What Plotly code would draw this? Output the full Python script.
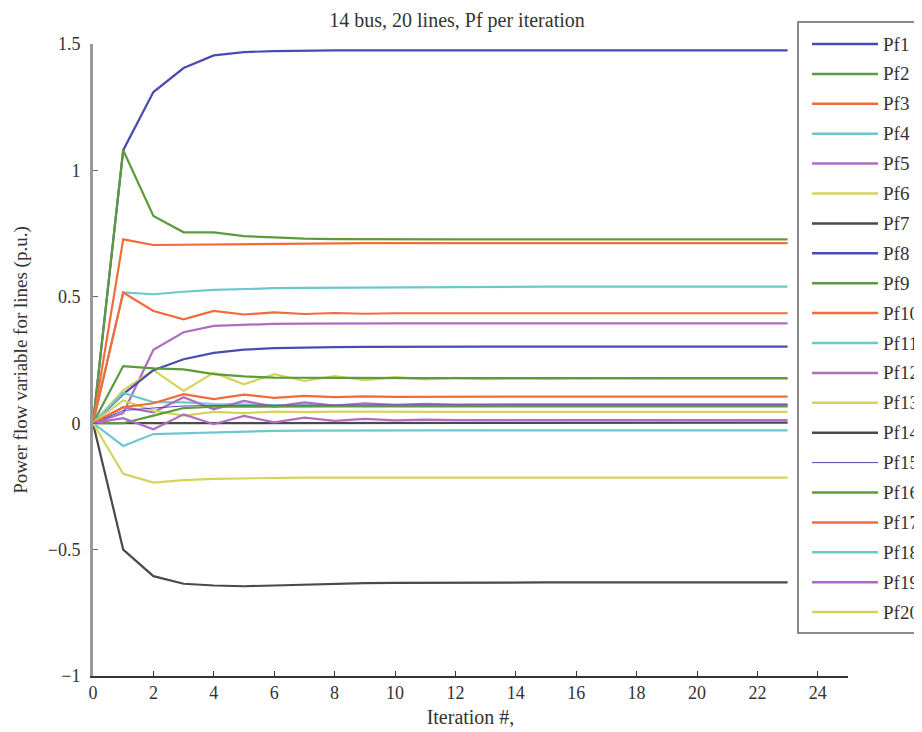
import plotly.graph_objects as go

iterations = list(range(24))

pf1 = [0, 1.08, 1.31, 1.405, 1.455, 1.468, 1.472, 1.474, 1.475, 1.475, 1.475, 1.475, 1.475, 1.475, 1.475, 1.475, 1.475, 1.475, 1.475, 1.475, 1.475, 1.475, 1.475, 1.475]
pf2 = [0, 1.08, 0.82, 0.755, 0.755, 0.74, 0.735, 0.73, 0.728, 0.727, 0.727, 0.727, 0.727, 0.727, 0.727, 0.727, 0.727, 0.727, 0.727, 0.727, 0.727, 0.727, 0.727, 0.727]
pf3 = [0, 0.727, 0.705, 0.706, 0.708, 0.71, 0.711, 0.712, 0.712, 0.712, 0.712, 0.712, 0.712, 0.712, 0.712, 0.712, 0.712, 0.712, 0.712, 0.712, 0.712, 0.712, 0.712, 0.712]
pf4 = [0, 0.517, 0.51, 0.52, 0.527, 0.532, 0.534, 0.535, 0.536, 0.537, 0.538, 0.538, 0.539, 0.539, 0.54, 0.54, 0.54, 0.54, 0.54, 0.54, 0.54, 0.54, 0.54, 0.54]
pf5 = [0, 0.04, 0.29, 0.36, 0.385, 0.39, 0.393, 0.394, 0.395, 0.395, 0.395, 0.395, 0.395, 0.395, 0.395, 0.395, 0.395, 0.395, 0.395, 0.395, 0.395, 0.395, 0.395, 0.395]
pf6 = [0, 0.13, 0.21, 0.128, 0.2, 0.154, 0.194, 0.167, 0.186, 0.17, 0.182, 0.173, 0.179, 0.174, 0.178, 0.175, 0.177, 0.176, 0.176, 0.176, 0.176, 0.176, 0.176, 0.176]
pf7 = [0, -0.5, -0.605, -0.635, -0.642, -0.645, -0.642, -0.638, -0.635, -0.633, -0.632, -0.631, -0.63, -0.63, -0.63, -0.63, -0.63, -0.63, -0.63, -0.63, -0.63, -0.63, -0.63, -0.63]
pf8 = [0, 0.115, 0.21, 0.253, 0.278, 0.291, 0.297, 0.3, 0.301, 0.302, 0.303, 0.303, 0.303, 0.303, 0.303, 0.303, 0.303, 0.303, 0.303, 0.303, 0.303, 0.303, 0.303, 0.303]
pf9 = [0, 0.226, 0.217, 0.213, 0.194, 0.185, 0.18, 0.179, 0.178, 0.178, 0.178, 0.178, 0.178, 0.178, 0.178, 0.178, 0.178, 0.178, 0.178, 0.178, 0.178, 0.178, 0.178, 0.178]
pf10 = [0, 0.517, 0.444, 0.411, 0.444, 0.43, 0.438, 0.432, 0.436, 0.433, 0.435, 0.434, 0.435, 0.435, 0.435, 0.435, 0.435, 0.435, 0.435, 0.435, 0.435, 0.435, 0.435, 0.435]
pf11 = [0, 0.12, 0.083, 0.082, 0.076, 0.073, 0.072, 0.071, 0.07, 0.07, 0.07, 0.07, 0.07, 0.07, 0.07, 0.07, 0.07, 0.07, 0.07, 0.07, 0.07, 0.07, 0.07, 0.07]
pf12 = [0, 0.063, 0.043, 0.103, 0.055, 0.088, 0.066, 0.082, 0.07, 0.079, 0.073, 0.077, 0.074, 0.076, 0.075, 0.075, 0.075, 0.075, 0.075, 0.075, 0.075, 0.075, 0.075, 0.075]
pf13 = [0, 0.09, 0.05, 0.03, 0.045, 0.04, 0.046, 0.044, 0.046, 0.045, 0.045, 0.045, 0.045, 0.045, 0.045, 0.045, 0.045, 0.045, 0.045, 0.045, 0.045, 0.045, 0.045, 0.045]
pf14 = [0, 0.0, 0.001, 0.002, 0.002, 0.002, 0.002, 0.002, 0.002, 0.002, 0.002, 0.002, 0.002, 0.002, 0.002, 0.002, 0.002, 0.002, 0.002, 0.002, 0.002, 0.002, 0.002, 0.002]
pf15 = [0, 0.05, 0.06, 0.068, 0.07, 0.071, 0.072, 0.072, 0.072, 0.072, 0.072, 0.072, 0.072, 0.072, 0.072, 0.072, 0.072, 0.072, 0.072, 0.072, 0.072, 0.072, 0.072, 0.072]
pf16 = [0, 0.0, 0.03, 0.06, 0.065, 0.066, 0.066, 0.066, 0.066, 0.066, 0.066, 0.066, 0.066, 0.066, 0.066, 0.066, 0.066, 0.066, 0.066, 0.066, 0.066, 0.066, 0.066, 0.066]
pf17 = [0, 0.063, 0.079, 0.115, 0.095, 0.113, 0.1, 0.108, 0.103, 0.106, 0.104, 0.105, 0.105, 0.105, 0.105, 0.105, 0.105, 0.105, 0.105, 0.105, 0.105, 0.105, 0.105, 0.105]
pf18 = [0, -0.09, -0.043, -0.04, -0.035, -0.032, -0.03, -0.029, -0.028, -0.028, -0.028, -0.028, -0.028, -0.028, -0.028, -0.028, -0.028, -0.028, -0.028, -0.028, -0.028, -0.028, -0.028, -0.028]
pf19 = [0, 0.02, -0.024, 0.035, -0.004, 0.029, 0.003, 0.022, 0.009, 0.017, 0.011, 0.014, 0.012, 0.013, 0.012, 0.012, 0.012, 0.012, 0.012, 0.012, 0.012, 0.012, 0.012, 0.012]
pf20 = [0, -0.2, -0.235, -0.225, -0.22, -0.218, -0.216, -0.215, -0.215, -0.215, -0.215, -0.215, -0.215, -0.215, -0.215, -0.215, -0.215, -0.215, -0.215, -0.215, -0.215, -0.215, -0.215, -0.215]

series = [pf1, pf2, pf3, pf4, pf5, pf6, pf7, pf8, pf9, pf10,
          pf11, pf12, pf13, pf14, pf15, pf16, pf17, pf18, pf19, pf20]
names = [f"Pf{i}" for i in range(1, 21)]

palette = ["#4b4bb0", "#5b9b3c", "#f26b3a", "#6cc8cc", "#b06cc0", "#d4d45a", "#4a4a4a"]

FONT = "Liberation Serif"
OFF = 8  # page body margin in the browser
W, H = 922 - OFF, 732 - OFF
# plot area in screenshot pixels: x 93..848, y 44..676
ML, MT = 93 - OFF, 44 - OFF
MR = W - (848 - OFF)
MB = H - (676 - OFF)
PW, PH = W - ML - MR, H - MT - MB


def px_x(p):
    return (p - OFF - ML) / PW


def px_y(p):
    return (H - MB - (p - OFF)) / PH


fig = go.Figure()
for i, (name, vals) in enumerate(zip(names, series)):
    width = 1 if name == "Pf15" else 2.2
    fig.add_trace(go.Scatter(
        x=iterations, y=vals, mode="lines", name=name,
        line=dict(color=palette[i % 7], width=width), showlegend=False,
    ))

# manual legend box (matching the reference's wide line samples)
shapes = [dict(type="rect", xref="paper", yref="paper",
               x0=px_x(798), x1=px_x(935), y0=px_y(633), y1=px_y(22),
               line=dict(color="#666", width=1.5), fillcolor="white", layer="above")]
annotations = []
for i, name in enumerate(names):
    yy = 44 + i * 29.9
    width = 1 if name == "Pf15" else 2.5
    shapes.append(dict(type="line", xref="paper", yref="paper",
                       x0=px_x(812), x1=px_x(878), y0=px_y(yy), y1=px_y(yy),
                       line=dict(color=palette[i % 7], width=width), layer="above"))
    annotations.append(dict(xref="paper", yref="paper", x=px_x(881), y=px_y(yy),
                            text=name, showarrow=False, xanchor="left", yanchor="middle",
                            font=dict(family=FONT, size=19, color="#333")))

fig.update_layout(
    width=W, height=H,
    paper_bgcolor="white", plot_bgcolor="white",
    margin=dict(l=ML, r=MR, t=MT, b=MB, autoexpand=False),
    font=dict(family=FONT, size=18, color="#333"),
    title=dict(text="14 bus, 20 lines, Pf per iteration", x=(457 - OFF) / W, xref="container",
               xanchor="center", y=1 - (20 - OFF) / H, yref="container", yanchor="middle",
               font=dict(family=FONT, size=20, color="#333")),
    showlegend=False,
    shapes=shapes,
    annotations=annotations,
)
fig.update_xaxes(
    range=[0, 25], tickmode="array", tickvals=list(range(0, 25, 2)),
    ticks="inside", ticklen=5, tickcolor="#333", showgrid=False, zeroline=False,
    showline=True, linecolor="#333", linewidth=1.5,
    title=dict(text="Iteration #,", font=dict(family=FONT, size=20), standoff=8),
    tickfont=dict(family=FONT, size=18),
)
fig.update_yaxes(
    range=[-1, 1.5], tickmode="array", tickvals=[-1, -0.5, 0, 0.5, 1, 1.5],
    ticktext=["\u22121", "\u22120.5", "0", "0.5", "1", "1.5"],
    ticks="inside", ticklen=5, tickcolor="#666", showgrid=False, zeroline=False,
    showline=True, linecolor="#999", linewidth=3, ticklabelstandoff=6,
    title=dict(text="Power flow variable for lines (p.u.)", font=dict(family=FONT, size=19), standoff=16),
    tickfont=dict(family=FONT, size=18),
)

fig.write_html("out.html")
